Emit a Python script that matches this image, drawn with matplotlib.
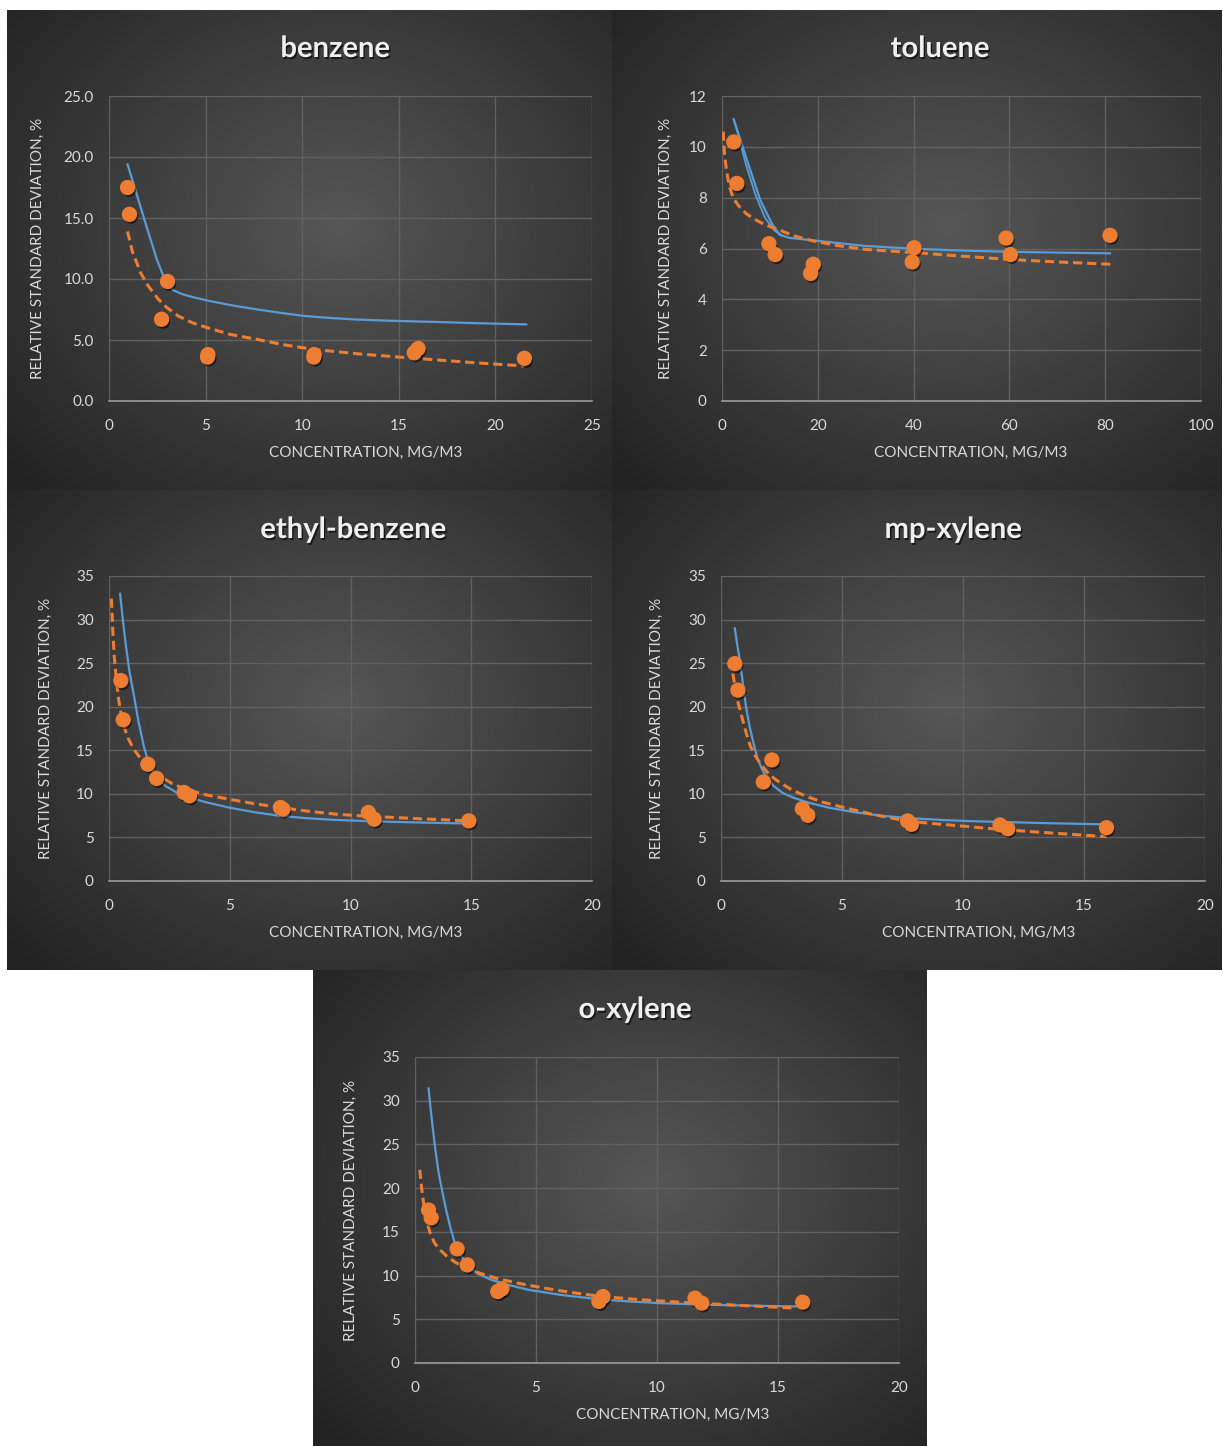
import numpy as np
import matplotlib
matplotlib.use("Agg")
import matplotlib.pyplot as plt
import matplotlib.patheffects as pe

plt.rcParams['font.family'] = ['Lato', 'DejaVu Sans']

W, H = 1223, 1446

# ---- data ----
benzene_x = [0.96, 1.06, 3.03, 2.72, 5.1, 5.12, 10.6, 10.62, 15.8, 16.0, 21.5]
benzene_y = [17.5, 15.3, 9.8, 6.7, 3.6, 3.8, 3.6, 3.8, 3.95, 4.3, 3.5]
benzene_fit_x = [0.96, 1.5, 2.0, 2.5, 2.9, 3.3, 3.8, 4.5, 5.2, 6.5, 7.7, 9.0, 10.1,
                 11.5, 12.8, 14.5, 16.9, 19.0, 21.6]
benzene_fit_y = [19.4, 16.6, 14.0, 11.5, 9.9, 9.1, 8.75, 8.45, 8.2, 7.8, 7.5, 7.2, 6.97,
                 6.8, 6.68, 6.58, 6.48, 6.38, 6.28]
benzene_trend_x = [0.96, 1.2, 1.64, 2.0, 2.56, 3.0, 3.58, 4.3, 5.11, 6.3, 7.67, 9.0, 10.6,
                   13.0, 15.85, 18.9, 21.5]
benzene_trend_y = [13.9, 12.3, 10.5, 9.5, 8.33, 7.65, 6.97, 6.42, 6.0, 5.45, 5.05, 4.62, 4.23,
                   3.85, 3.5, 3.14, 2.87]

toluene_x = [2.45, 3.1, 9.8, 11.1, 18.5, 19.05, 40.1, 39.7, 59.3, 60.2, 81.0]
toluene_y = [10.19, 8.56, 6.19, 5.76, 5.02, 5.38, 6.03, 5.47, 6.41, 5.76, 6.52]
toluene_fit_x = [2.45, 5.0, 8.0, 10.5, 12.0, 14.0, 20.0, 30.0, 40.1, 50.0, 60.0, 70.0, 81.0]
toluene_fit_y = [11.08, 9.6, 7.9, 6.95, 6.55, 6.42, 6.3, 6.1, 5.99, 5.92, 5.87, 5.84, 5.81]
toluene_fit2_x = [2.45, 3.5, 5.0, 7.0, 9.0, 11.0, 12.5]
toluene_fit2_y = [11.08, 10.4, 9.3, 8.1, 7.2, 6.7, 6.5]
toluene_trend_x = [0.25, 0.4, 0.65, 1.0, 1.5, 2.3, 3.5, 5.0, 6.8, 9.0, 11.7, 15.0, 19.0,
                   24.0, 29.7, 35.0, 40.1, 50.0, 60.0, 70.0, 81.2]
toluene_trend_y = [10.6, 10.0, 9.5, 9.0, 8.46, 8.0, 7.67, 7.38, 7.15, 6.93, 6.75, 6.5, 6.3,
                   6.12, 5.97, 5.9, 5.84, 5.7, 5.57, 5.47, 5.38]

ethyl_x = [0.49, 0.59, 1.61, 1.97, 3.11, 3.33, 7.1, 7.2, 10.74, 10.98, 14.9]
ethyl_y = [23.0, 18.5, 13.4, 11.77, 10.16, 9.77, 8.43, 8.24, 7.86, 7.09, 6.9]
ethyl_fit_x = [0.46, 0.58, 0.7, 0.85, 1.03, 1.22, 1.44, 1.6, 1.77, 2.0, 2.34, 2.8, 3.33,
               4.0, 4.97, 6.0, 7.1, 8.2, 9.4, 10.6, 11.85, 13.4, 14.9]
ethyl_fit_y = [32.96, 29.8, 27.0, 24.0, 21.3, 18.3, 15.5, 13.9, 12.84, 11.8, 10.9, 10.15, 9.58,
               9.05, 8.43, 7.9, 7.47, 7.2, 7.01, 6.88, 6.78, 6.68, 6.59]
ethyl_trend_x = [0.1, 0.16, 0.22, 0.3, 0.4, 0.54, 0.75, 1.03, 1.3, 1.6, 2.18, 2.6, 3.16,
                 4.0, 4.97, 6.0, 7.1, 8.2, 9.4, 10.6, 11.85, 13.4, 14.9]
ethyl_trend_y = [32.4, 28.6, 25.7, 23.2, 20.8, 18.6, 16.6, 15.1, 14.1, 13.2, 11.9, 11.2, 10.54,
                 9.9, 9.39, 8.88, 8.43, 8.02, 7.67, 7.45, 7.28, 7.08, 6.9]

mp_x = [0.57, 0.7, 1.75, 2.1, 3.36, 3.59, 7.71, 7.87, 11.53, 11.85, 15.93]
mp_y = [24.94, 21.9, 11.36, 13.89, 8.3, 7.54, 6.89, 6.5, 6.43, 6.0, 6.12]
mp_fit_x = [0.57, 0.69, 0.81, 0.93, 1.05, 1.2, 1.37, 1.52, 1.7, 1.92, 2.18, 2.55, 2.99,
            3.6, 4.45, 5.5, 6.71, 7.9, 9.14, 10.3, 11.56, 13.6, 15.93]
mp_fit_y = [29.0, 26.8, 24.7, 22.1, 19.7, 17.5, 15.5, 14.0, 12.8, 11.7, 10.9, 10.1, 9.56,
            9.0, 8.42, 7.9, 7.46, 7.2, 7.0, 6.87, 6.77, 6.63, 6.5]
mp_trend_x = [0.4, 0.48, 0.57, 0.72, 0.89, 1.05, 1.21, 1.45, 1.7, 2.0, 2.34, 2.9, 3.48,
              4.2, 5.09, 6.3, 7.68, 8.8, 9.94, 10.9, 11.88, 13.9, 15.93]
mp_trend_y = [25.4, 24.0, 22.4, 20.3, 18.55, 16.9, 15.5, 14.2, 13.2, 12.2, 11.48, 10.5, 9.76,
              9.05, 8.42, 7.62, 6.89, 6.58, 6.31, 6.07, 5.85, 5.46, 5.09]

ox_x = [0.56, 0.67, 1.74, 2.16, 3.42, 3.59, 7.6, 7.77, 11.57, 11.85, 16.02]
ox_y = [17.5, 16.6, 13.05, 11.22, 8.18, 8.48, 7.04, 7.6, 7.42, 6.85, 6.96]
ox_fit_x = [0.56, 0.64, 0.73, 0.85, 0.98, 1.15, 1.32, 1.48, 1.65, 1.9, 2.16, 2.6, 3.17,
            3.9, 4.69, 6.0, 7.55, 8.8, 10.08, 11.1, 12.1, 13.9, 15.73]
ox_fit_y = [31.4, 29.2, 27.0, 24.2, 21.7, 19.3, 17.1, 15.3, 13.7, 12.3, 11.2, 10.2, 9.5,
            8.9, 8.37, 7.8, 7.3, 7.05, 6.85, 6.75, 6.66, 6.56, 6.47]
ox_trend_x = [0.2, 0.25, 0.3, 0.38, 0.47, 0.62, 0.81, 1.05, 1.32, 1.7, 2.16, 2.7, 3.34,
              4.3, 5.36, 6.5, 7.72, 9.0, 10.42, 11.7, 12.95, 14.3, 15.73]
ox_trend_y = [22.1, 20.6, 19.4, 17.8, 16.4, 14.9, 13.7, 12.9, 12.2, 11.45, 10.84, 10.25, 9.7,
              9.1, 8.56, 8.05, 7.61, 7.3, 7.04, 6.84, 6.66, 6.47, 6.28]

names = ['benzene', 'toluene', 'ethyl-benzene', 'mp-xylene', 'o-xylene']

# panel background boxes and axes boxes in pixels (left, top, right, bottom)
panels = [(7, 10, 612, 490), (612, 10, 1222, 490), (7, 490, 612, 970),
          (612, 490, 1222, 970), (313, 970, 927, 1446)]
axboxes = [(109, 96, 592, 401), (722, 96, 1201, 401), (109, 576, 592, 881),
           (721, 576, 1205, 881), (415, 1057, 899, 1363)]
title_pos = [(335, 49), (940, 49), (353, 530), (953, 530), (635, 1010)]
xlims = [(0, 25), (0, 100), (0, 20), (0, 20), (0, 20)]
ylims = [(0, 25), (0, 12), (0, 35), (0, 35), (0, 35)]
xsteps = [5, 20, 5, 5, 5]
ysteps = [5, 2, 5, 5, 5]
yfmt = ['%.1f', '%d', '%d', '%d', '%d']
ylab_x = [-0.1335, -0.103, -0.117, -0.119, -0.117]
xlab_x = [0.532, 0.52, 0.532, 0.533, 0.533]

series = [
    (benzene_x, benzene_y, benzene_fit_x, benzene_fit_y, benzene_trend_x, benzene_trend_y),
    (toluene_x, toluene_y, toluene_fit_x, toluene_fit_y, toluene_trend_x, toluene_trend_y),
    (ethyl_x, ethyl_y, ethyl_fit_x, ethyl_fit_y, ethyl_trend_x, ethyl_trend_y),
    (mp_x, mp_y, mp_fit_x, mp_fit_y, mp_trend_x, mp_trend_y),
    (ox_x, ox_y, ox_fit_x, ox_fit_y, ox_trend_x, ox_trend_y),
]

BLUE = '#5B9BD5'
ORANGE = '#ED7D31'
TXT = '#d9d9d9'
GRID = '#616161'


def frac(box):
    l, t, r, b = box
    return [l / W, 1 - b / H, (r - l) / W, (b - t) / H]


fig = plt.figure(figsize=(W / 100, H / 100), dpi=100, facecolor='white')

# dark radial-gradient backgrounds
for box in panels:
    bg = fig.add_axes(frac(box), zorder=0)
    bg.axis('off')
    yy, xx = np.mgrid[0:1:200j, 0:1:200j]
    r = np.sqrt(((xx - 0.55) / 0.75) ** 2 + ((yy - 0.45) / 0.8) ** 2)
    v = np.clip(0.34 - 0.21 * r, 0.14, 0.34)
    bg.imshow(np.dstack([v, v, v]), extent=[0, 1, 0, 1], aspect='auto')
    bg.set_xlim(0, 1)
    bg.set_ylim(0, 1)

shadow = [pe.SimplePatchShadow(offset=(1.2, -1.8), shadow_rgbFace='black', alpha=0.55), pe.Normal()]

for i, name in enumerate(names):
    px, py, fx, fy, tx, ty = series[i]
    ax = fig.add_axes(frac(axboxes[i]), zorder=2)
    ax.set_facecolor('none')
    ax.plot(fx, fy, color=BLUE, lw=1.6, zorder=3)
    if name == 'toluene':
        ax.plot(toluene_fit2_x, toluene_fit2_y, color=BLUE, lw=1.3, zorder=3)
    ax.plot(tx, ty, color=ORANGE, lw=2.2, linestyle=(0, (3, 1.6)), zorder=3)
    ax.plot(px, py, 'o', color=ORANGE, ms=10, mec=ORANGE, zorder=4,
            path_effects=shadow)

    ax.set_xlim(*xlims[i])
    ax.set_ylim(*ylims[i])
    ax.set_xticks(np.arange(xlims[i][0], xlims[i][1] + 0.1, xsteps[i]))
    yt = np.arange(ylims[i][0], ylims[i][1] + 0.01, ysteps[i])
    ax.set_yticks(yt)
    ax.set_yticklabels([yfmt[i] % v for v in yt])
    ax.grid(True, color=GRID, lw=1)
    ax.set_axisbelow(True)
    for s in ['top', 'right', 'left']:
        ax.spines[s].set_visible(False)
    ax.spines['bottom'].set_color('#9a9a9a')
    ax.spines['bottom'].set_linewidth(1.2)
    ax.tick_params(length=0, colors=TXT, labelsize=11)
    ax.tick_params(axis='x', pad=13)
    ax.tick_params(axis='y', pad=11)

    ax.set_xlabel('CONCENTRATION, MG/M3', color=TXT, fontsize=11)
    ax.xaxis.set_label_coords(xlab_x[i], -0.148)
    ax.set_ylabel('RELATIVE STANDARD DEVIATION, %', color=TXT, fontsize=11)
    ax.yaxis.set_label_coords(ylab_x[i], 0.5)

    tpx, tpy = title_pos[i]
    fig.text(tpx / W, 1 - tpy / H, name, ha='center', va='center', fontsize=21,
             fontweight='bold', color='#f0f0f0', zorder=5,
             path_effects=[pe.withSimplePatchShadow(offset=(1, -1.5), shadow_rgbFace='black', alpha=0.6)])

fig.savefig('out.png', dpi=100, facecolor='white')
